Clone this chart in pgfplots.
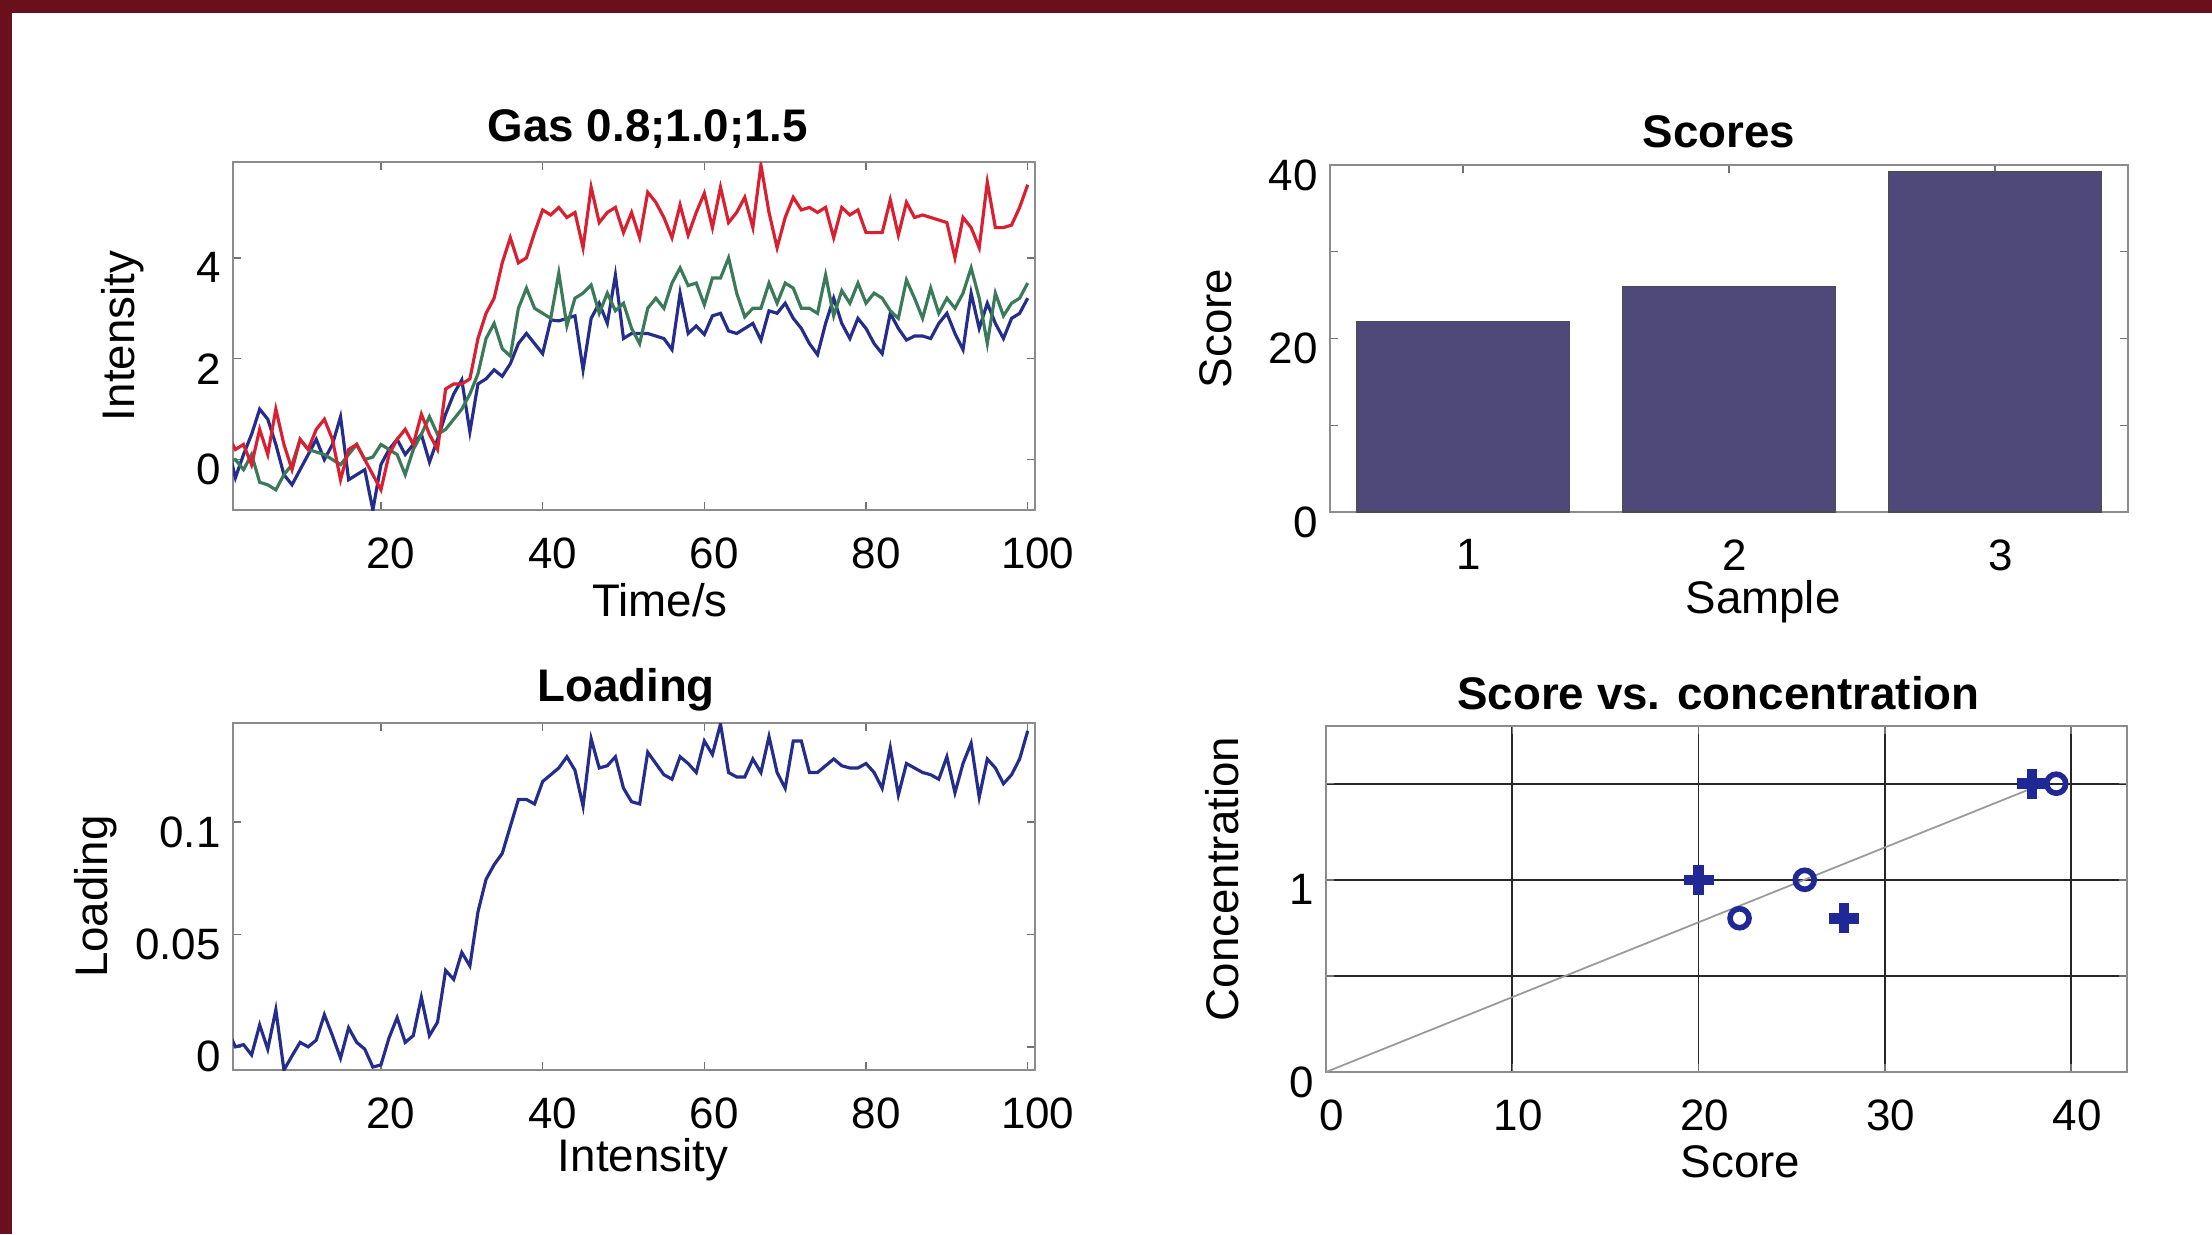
\documentclass[border=0pt]{standalone}
\usepackage{fontspec}
\setmainfont{Liberation Sans}
\usepackage{pgfplots}
\usepackage{pgfplotstable}
\pgfplotsset{compat=1.18}

\definecolor{framered}{RGB}{106,16,28}
\definecolor{barblue}{RGB}{79,73,122}
\definecolor{lred}{RGB}{218,32,48}
\definecolor{lgreen}{RGB}{58,122,88}
\definecolor{lblue}{RGB}{36,44,140}
\definecolor{mblue}{RGB}{32,40,150}

% x  red  green  blue  loading
\pgfplotstableread{
x r g b l
1 0.5 -0.05 0.3 0.0076
2 0.2 0.0 -0.36 0.0
3 0.3 -0.2 0.1 0.001
4 -0.1 0.1 0.5 -0.0036
5 0.6 -0.45 1.0 0.0098
6 0.1 -0.5 0.8 -0.001
7 1.0 -0.6 0.3 0.0165
8 0.3 -0.3 -0.3 -0.0103
9 -0.2 -0.1 -0.5 -0.004
10 0.4 0.4 -0.2 0.002
11 0.2 0.2 0.1 0.0
12 0.6 0.15 0.4 0.003
13 0.8 0.1 0.0 0.0143
14 0.4 0.0 0.3 0.005
15 -0.4 -0.1 0.85 -0.005
16 0.2 0.1 -0.4 0.0085
17 0.3 0.3 -0.3 0.002
18 0.0 0.0 -0.2 -0.001
19 -0.3 0.05 -1.0 -0.009
20 -0.6 0.3 -0.1 -0.008
21 0.1 0.2 0.2 0.004
22 0.4 0.1 0.4 0.013
23 0.6 -0.3 0.1 0.002
24 0.3 0.2 0.3 0.005
25 0.9 0.5 0.5 0.022
26 0.5 0.85 -0.05 0.005
27 0.2 0.5 0.4 0.011
28 1.4 0.6 0.9 0.034
29 1.5 0.8 1.3 0.030
30 1.5 1.0 1.58 0.042
31 1.6 1.3 0.55 0.036
32 2.4 1.7 1.5 0.060
33 2.9 2.4 1.6 0.0745
34 3.2 2.7 1.78 0.081
35 3.9 2.2 1.65 0.086
36 4.4 2.05 1.9 0.098
37 3.9 3.0 2.3 0.110
38 4.0 3.4 2.5 0.110
39 4.5 3.0 2.3 0.108
40 4.95 2.9 2.1 0.118
41 4.85 2.8 2.77 0.121
42 5.0 3.7 2.75 0.124
43 4.8 2.65 2.8 0.129
44 4.9 3.2 2.85 0.123
45 4.2 3.3 1.78 0.107
46 5.4 3.46 2.8 0.137
47 4.7 2.9 3.1 0.124
48 4.9 3.3 2.7 0.125
49 5.0 2.95 3.66 0.129
50 4.5 3.1 2.4 0.115
51 4.9 2.6 2.5 0.109
52 4.4 2.3 2.5 0.108
53 5.3 3.0 2.5 0.131
54 5.1 3.2 2.45 0.126
55 4.8 3.0 2.4 0.121
56 4.4 3.5 2.18 0.119
57 5.05 3.8 3.3 0.129
58 4.45 3.45 2.5 0.126
59 4.9 3.5 2.65 0.122
60 5.28 3.07 2.48 0.136
61 4.6 3.6 2.85 0.130
62 5.4 3.6 2.9 0.1436
63 4.7 4.0 2.55 0.122
64 4.9 3.3 2.5 0.120
65 5.2 2.83 2.6 0.120
66 4.6 3.0 2.7 0.128
67 5.84 3.0 2.37 0.122
68 4.9 3.5 2.95 0.138
69 4.2 3.1 2.9 0.122
70 4.8 3.5 3.1 0.115
71 5.2 3.4 2.8 0.136
72 4.95 3.0 2.6 0.136
73 5.0 3.0 2.3 0.122
74 4.9 2.9 2.08 0.122
75 5.0 3.66 2.7 0.125
76 4.4 2.85 3.2 0.128
77 5.0 3.35 2.7 0.125
78 4.85 3.1 2.4 0.124
79 4.95 3.5 2.8 0.124
80 4.5 3.1 2.6 0.126
81 4.5 3.3 2.3 0.122
82 4.5 3.2 2.1 0.115
83 5.15 2.95 2.9 0.133
84 4.45 2.8 2.6 0.112
85 5.1 3.56 2.37 0.126
86 4.8 3.2 2.45 0.124
87 4.85 2.8 2.45 0.122
88 4.8 3.4 2.4 0.121
89 4.75 2.9 2.7 0.119
90 4.7 3.2 2.9 0.129
91 4.0 3.0 2.5 0.113
92 4.8 3.3 2.18 0.126
93 4.6 3.8 3.3 0.135
94 4.2 3.2 2.6 0.111
95 5.5 2.3 3.1 0.128
96 4.6 3.3 2.7 0.124
97 4.6 2.85 2.4 0.117
98 4.65 3.1 2.8 0.121
99 5.0 3.2 2.9 0.128
100 5.45 3.5 3.2 0.1405
}\gasdata

\pgfplotsset{
  panel/.style={
    scale only axis, anchor=south west,
    axis line style={draw=black!45},
    tick align=inside,
    major tick length=0.08cm,
    minor tick length=0.08cm,
    every tick/.style={black!55, line width=0.4pt},
    tick label style={font=\fontsize{12.5}{14}\selectfont},
    /pgf/number format/assume math mode=true,
    every axis title/.style={at={(rel axis cs:0.5,1)}, anchor=center, yshift=0.33cm,
      font=\fontsize{13}{15}\selectfont\bfseries},
    every axis x label/.style={at={(rel axis cs:0.5,0)}, anchor=center, yshift=-0.9cm,
      font=\fontsize{13}{15}\selectfont},
    every axis y label/.style={at={(rel axis cs:0,0.5)}, rotate=90, anchor=center,
      font=\fontsize{13}{15}\selectfont},
    xticklabel style={yshift=-0.15cm, xshift=0.06cm},
    yticklabel style={yshift=-0.1cm},
  },
}

\begin{document}
\begin{tikzpicture}
\useasboundingbox (0,0) rectangle (22.12,12.34);
\fill[framered] (0,0) rectangle (22.12,12.34);
\fill[white] (0.12,0) rectangle (22.12,12.21);

% top left: gas responses
\begin{axis}[panel,
  at={(2.33cm,7.24cm)}, width=8.02cm, height=3.48cm,
  xmin=1.7, xmax=100.9, ymin=-1, ymax=5.9,
  xtick={20,40,60,80,100}, ytick={0,2,4},
  xticklabel style={xshift=0.04cm},
  title={Gas 0.8;1.0;1.5}, title style={xshift=0.14cm},
  xlabel={Time/s}, xlabel style={xshift=0.26cm},
  ylabel={Intensity}, ylabel style={yshift=1.1cm},
]
\addplot[lblue, line width=0.9pt] table[x=x, y=b] {\gasdata};
\addplot[lgreen, line width=0.9pt] table[x=x, y=g] {\gasdata};
\addplot[lred, line width=0.9pt] table[x=x, y=r] {\gasdata};
\end{axis}

% bottom left: loading
\begin{axis}[panel,
  at={(2.33cm,1.64cm)}, width=8.02cm, height=3.47cm,
  xmin=1.7, xmax=100.9, ymin=-0.0103, ymax=0.144,
  xtick={20,40,60,80,100}, ytick={0,0.05,0.1},
  yticklabels={0,0.05,0.1},
  xticklabel style={xshift=0.04cm},
  title={Loading}, title style={xshift=-0.08cm},
  xlabel={Intensity}, xlabel style={xshift=0.09cm},
  ylabel={Loading}, ylabel style={yshift=1.37cm},
]
\addplot[lblue, line width=0.9pt] table[x=x, y=l] {\gasdata};
\end{axis}

% top right: scores
\begin{axis}[panel,
  at={(13.30cm,7.22cm)}, width=7.98cm, height=3.47cm,
  xmin=0.5, xmax=3.5, ymin=0, ymax=40,
  xtick={1,2,3}, ytick={0,10,20,30,40},
  yticklabels={0,,20,,40},
  title={Scores}, title style={xshift=-0.1cm},
  xlabel={Sample}, xlabel style={xshift=0.34cm},
  ylabel={Score}, ylabel style={yshift=1.14cm, xshift=0.1cm},
]
\addplot[ybar, bar width=0.8, fill=barblue, draw=black!70, line width=0.3pt]
  coordinates {(1,22.0) (2,26.0) (3,39.3)};
\end{axis}

% bottom right: score vs concentration
\begin{axis}[panel,
  at={(13.26cm,1.62cm)}, width=8.01cm, height=3.46cm,
  xmin=0, xmax=43, ymin=0, ymax=1.8,
  xtick={0,10,20,30,40}, ytick={0,0.5,1,1.5},
  yticklabels={0,,1,},
  grid=major, major grid style={black!85, line width=0.5pt},
  title={Score vs. concentration}, title style={xshift=-0.08cm},
  xlabel={Score}, xlabel style={xshift=0.14cm},
  ylabel={Concentration}, ylabel style={yshift=1.04cm, xshift=0.2cm},
]
\addplot[black!40, line width=0.5pt] coordinates {(0,0) (38,1.48)};
\addplot[only marks, mark=+, mark size=1.5mm, mark options={line width=3pt, mblue}]
  coordinates {(20,1.0) (27.8,0.8) (37.9,1.5)};
\addplot[only marks, mark=o, mark size=0.95mm, mark options={line width=1.6pt, mblue}]
  coordinates {(22.2,0.8) (25.7,1.0) (39.2,1.5)};
\end{axis}
\end{tikzpicture}
\end{document}
